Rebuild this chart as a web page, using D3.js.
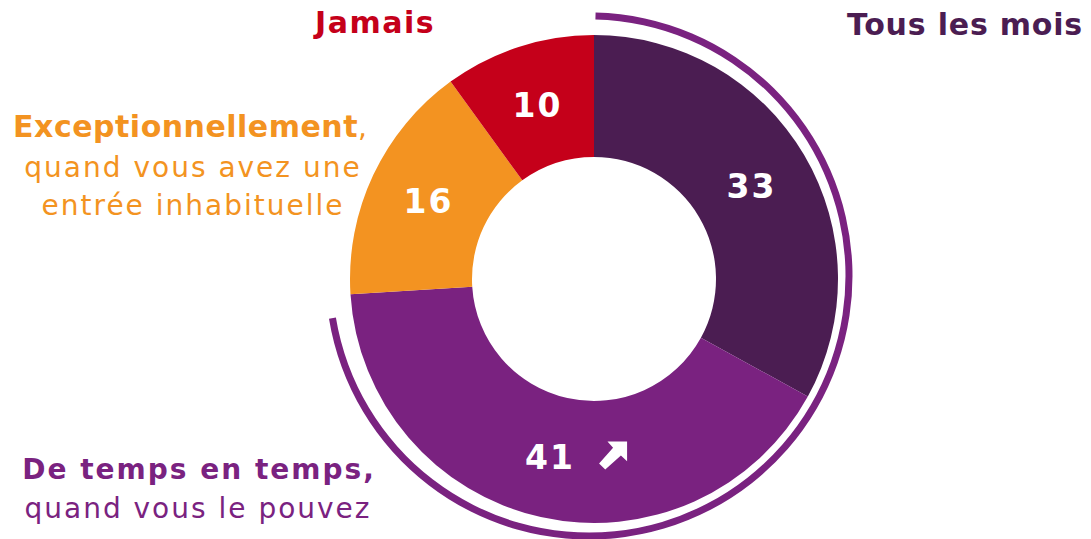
<!DOCTYPE html>
<html>
<head>
<meta charset="utf-8">
<script src="https://cdn.jsdelivr.net/npm/d3@7"></script>
<style>
	body { margin: 0; background: #fff; }
	svg { display: block; font-family: "DejaVu Sans", Verdana, sans-serif; }
</style>
</head>
<body>
<div id="chart"></div>
<script>
// data
var categories = ["Tous les mois", "De temps en temps", "Exceptionnellement", "Jamais"];
var values = [33, 41, 16, 10];
var sliceColors = ["#4b1d52", "#7a2280", "#f39321", "#c5001a"];
var trendUp = [false, true, false, false];
// share highlighted by the outer arc (Tous les mois + De temps en temps)
var highlighted = ["Tous les mois", "De temps en temps"];

var width = 1091;
var height = 539;
var cx = 594, cy = 279;
var outerR = 244, innerR = 122;

var svg = d3.select("#chart").append("svg")
	.attr("width", width)
	.attr("height", height);

var pie = d3.pie().sort(null).value(d => d);
var arcs = pie(values);

var arc = d3.arc().innerRadius(innerR).outerRadius(outerR);
var labelArc = d3.arc().innerRadius((innerR + outerR) / 2).outerRadius((innerR + outerR) / 2);

var g = svg.append("g").attr("transform", "translate(" + cx + "," + cy + ")");

g.selectAll("path.slice")
	.data(arcs)
	.enter().append("path")
	.attr("class", "slice")
	.attr("d", arc)
	.attr("fill", (d, i) => sliceColors[i]);

// outer highlight arc, slightly off-centre like the original
var hlEnd = arcs[categories.indexOf(highlighted[1])].endAngle - 0.1;
var hlArc = d3.arc()
	.innerRadius(256.5)
	.outerRadius(263.5)
	.startAngle(0.025)
	.endAngle(hlEnd);
svg.append("path")
	.attr("transform", "translate(" + (cx - 5) + "," + (cy - 3) + ")")
	.attr("d", hlArc())
	.attr("fill", "#7a2280");

// values in slices
var valueLabels = g.selectAll("g.val")
	.data(arcs)
	.enter().append("g")
	.attr("class", "val")
	.attr("transform", d => "translate(" + labelArc.centroid(d) + ")");

valueLabels.append("text")
	.attr("x", (d, i) => trendUp[i] ? -4 : 0)
	.attr("text-anchor", "middle")
	.attr("dy", "0.36em")
	.attr("fill", "#fff")
	.attr("font-weight", "bold")
	.attr("font-size", 33)
	.attr("letter-spacing", 2)
	.text(d => d.data);

// little arrow for the increase
valueLabels.filter((d, i) => trendUp[i])
	.append("path")
	.attr("transform", "translate(45,-16) scale(28)")
	.attr("d", "M0.3,0 L1,0 L1,0.7 L0.78,0.5 L0.22,1 L0,0.78 L0.5,0.22 Z")
	.attr("fill", "#fff");

// category labels
svg.append("text")
	.attr("x", 375).attr("y", 33)
	.attr("text-anchor", "middle")
	.attr("fill", "#c5001a")
	.attr("font-weight", "bold")
	.attr("font-size", 30)
	.attr("letter-spacing", 1.5)
	.text(categories[3]);

svg.append("text")
	.attr("x", 1083).attr("y", 35)
	.attr("text-anchor", "end")
	.attr("fill", "#4b1d52")
	.attr("font-weight", "bold")
	.attr("font-size", 30)
	.attr("letter-spacing", 0.8)
	.text(categories[0]);

var exc = svg.append("text")
	.attr("text-anchor", "middle")
	.attr("fill", "#f39321")
	.attr("font-size", 28)
	.attr("letter-spacing", 2);
var l1 = exc.append("tspan").attr("x", 191).attr("y", 137);
l1.append("tspan").attr("font-weight", "bold").attr("font-size", 30).attr("letter-spacing", 0.5).text(categories[2]);
l1.append("tspan").text(",");
exc.append("tspan").attr("x", 193).attr("y", 177).text("quand vous avez une");
exc.append("tspan").attr("x", 193).attr("y", 215).text("entrée inhabituelle");

var dtt = svg.append("text")
	.attr("text-anchor", "middle")
	.attr("fill", "#7a2280")
	.attr("font-size", 28)
	.attr("letter-spacing", 2);
dtt.append("tspan").attr("x", 199).attr("y", 479)
	.attr("font-weight", "bold").attr("letter-spacing", 2)
	.text(categories[1] + ",");
dtt.append("tspan").attr("x", 198).attr("y", 518).text("quand vous le pouvez");
</script>
</body>
</html>
